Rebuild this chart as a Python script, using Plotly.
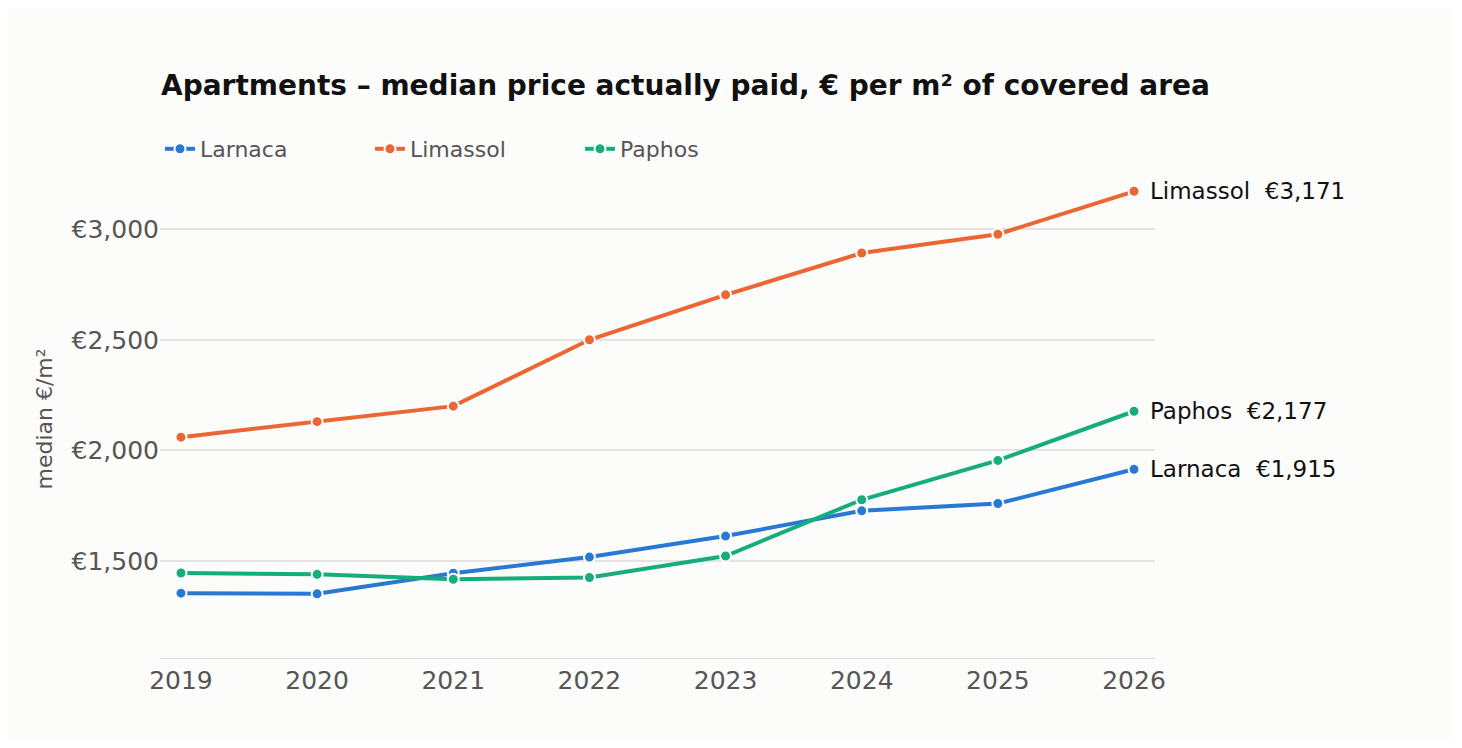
import plotly.graph_objects as go

years = [2019, 2020, 2021, 2022, 2023, 2024, 2025, 2026]
larnaca = [1355, 1352, 1445, 1518, 1613, 1727, 1760, 1915]
limassol = [2060, 2130, 2200, 2500, 2703, 2892, 2977, 3171]
paphos = [1446, 1440, 1418, 1426, 1523, 1777, 1955, 2177]
names = ["Larnaca", "Limassol", "Paphos"]
colors = ["#2878d6", "#ec6633", "#16ad7d"]
series = [larnaca, limassol, paphos]

W, H = 1446, 732
fig = go.Figure()
for n, c, s in zip(names, colors, series):
    fig.add_trace(go.Scatter(x=years, y=s, name=n, mode="lines+markers",
                             line=dict(color=c, width=4),
                             marker=dict(size=11, color=c, line=dict(color="white", width=2))))
    fig.add_annotation(x=years[-1], y=s[-1], text=f"{n}  €{s[-1]:,}", showarrow=False,
                       xanchor="left", xshift=14, font=dict(size=23, color="#111"))

fig.update_layout(
    width=W, height=H, paper_bgcolor="#fcfcfb", plot_bgcolor="#fcfcfb",
    font=dict(family="DejaVu Sans", color="#555"),
    margin=dict(l=152, r=299, t=172, b=82),
    title=dict(text="<b>Apartments – median price actually paid, € per m² of covered area</b>",
               x=153/W, xanchor="left", y=1-77/H, yanchor="middle",
               font=dict(size=28, color="#111")),
    legend=dict(orientation="h", x=0.0, xanchor="left", y=1+31/478, yanchor="middle",
                font=dict(size=22, color="#555"), bgcolor="rgba(0,0,0,0)",
                entrywidth=165, entrywidthmode="pixels"),
    xaxis=dict(range=[2018.846, 2026.154], tickvals=years, tickfont=dict(size=25, color="#555"),
               showgrid=False, showline=True, linecolor="#ddd", ticks="", zeroline=False),
    yaxis=dict(range=[1062, 3222], tickvals=[1500, 2000, 2500, 3000],
               ticktext=["€1,500", "€2,000", "€2,500", "€3,000"], tickfont=dict(size=25, color="#555"),
               gridcolor="#e3e3e3", gridwidth=2, zeroline=False, showline=False,
               title=dict(text="median €/m²", font=dict(size=22, color="#555"), standoff=12)),
)
fig.write_html("out.html")
